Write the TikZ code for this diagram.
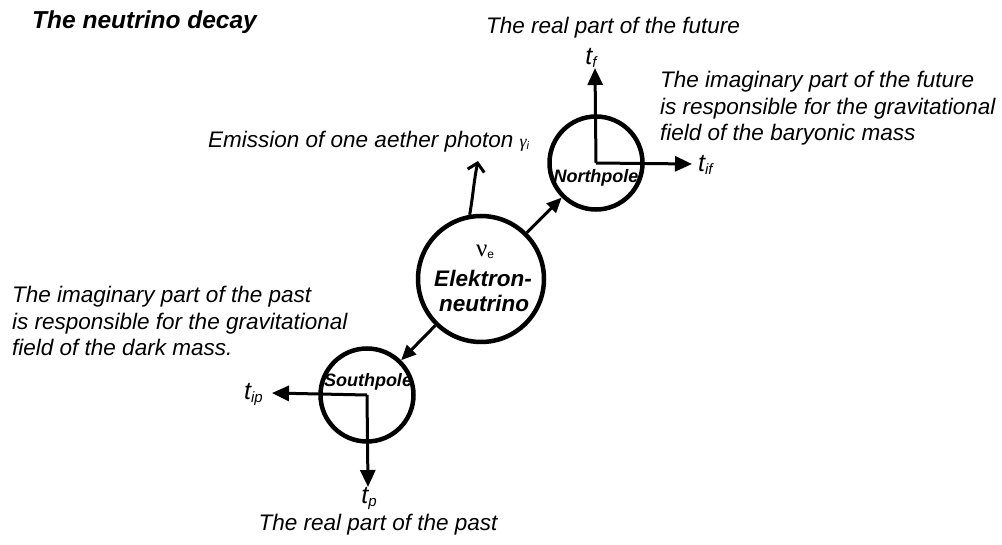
\documentclass[tikz,border=0pt]{standalone}
\usepackage{fontspec}
\setmainfont{Liberation Sans}
\newfontfamily\grfont{Liberation Serif}
\usetikzlibrary{arrows.meta}
\begin{document}
\begin{tikzpicture}[x=1pt,y=-1pt,
  lbl/.style={font=\fontsize{22.5}{26.5}\selectfont\itshape, align=left, inner sep=0pt},
  ball/.style={circle, draw, line width=4.5pt, inner sep=0pt},
  ax/.style={line width=3pt, -{Triangle[length=17pt,width=15pt]}},
  link/.style={line width=3pt, -{Triangle[length=15pt,width=13pt]}},
  poletxt/.style={font=\fontsize{18}{18}\selectfont\bfseries\itshape, inner sep=0pt},
  tlbl/.style={font=\fontsize{25}{25}\selectfont\itshape, inner sep=0pt},
  ctxt/.style={inner sep=0pt, font=\fontsize{22.5}{22.5}\selectfont\bfseries\itshape},
  ]
\useasboundingbox (0,0) rectangle (1002,545);
\fill[white] (0,0) rectangle (1002,545);

\node[anchor=west, inner sep=0pt, font=\fontsize{24.5}{28}\selectfont\bfseries\itshape] (title) at (32,22) {The neutrino decay};

% circles
\node[ball, minimum size=126pt] (nu) at (481,279) {};
\node[ball, minimum size=93pt] (np) at (596,163) {};
\node[ball, minimum size=93pt] (sp) at (367,395) {};

% centre text
\node[inner sep=0pt] (nusym) at (485,252) {{\grfont\fontsize{25}{25}\selectfont ν}\raisebox{-2pt}{\fontsize{12}{12}\selectfont e}};
\node[ctxt] (elek) at (483,278) {Elektron-};
\node[ctxt] (neut) at (484,303) {neutrino};

\node[poletxt] (nplbl) at (596,178) {Northpole};
\node[poletxt] (splbl) at (368,382) {Southpole};

% arrows between circles
\draw[link] (nu) -- (np);
\draw[link] (nu) -- (sp);

% photon
\coordinate (phend) at (478,161);
\draw[line width=3pt, -{Straight Barb[length=8pt,width=17pt]}] (nu.100) .. controls (473,196) and (474,180) .. (phend);

% north axes
\coordinate (tfend) at (595,68);
\coordinate (tifend) at (692,164);
\draw[ax] (np.center) -- (tfend);
\draw[ax] (np.center) -- (tifend);
\node[tlbl, anchor=base] (tf) at (591,65) {t\raisebox{-3pt}{\fontsize{15}{15}\selectfont f}};
\node[tlbl, anchor=west] (tif) at (698,165) {t\raisebox{-3pt}{\fontsize{15}{15}\selectfont if}};

% south axes
\coordinate (tipend) at (272,393);
\coordinate (tpend) at (368,487);
\draw[ax] (sp.center) -- (tipend);
\draw[ax] (sp.center) -- (tpend);
\node[tlbl, anchor=east] (tip) at (263,394) {t\raisebox{-3pt}{\fontsize{15}{15}\selectfont ip}};
\node[tlbl, anchor=base] (tp) at (369,503) {t\raisebox{-3pt}{\fontsize{15}{15}\selectfont p}};

% labels
\node[lbl] (realfut) at (613,28) {The real part of the future};
\node[lbl, anchor=north west] (imfut) at (660,71) {The imaginary part of the future\\is responsible for the gravitational\\field of the baryonic mass};
\node[lbl, anchor=west] (emis) at (208,142) {Emission of one aether photon {\grfont\fontsize{18}{18}\selectfont γ}\raisebox{-2pt}{\fontsize{11}{11}\selectfont i}};
\node[lbl, anchor=north west] (impast) at (12,286) {The imaginary part of the past\\is responsible for the gravitational\\field of the dark mass.};
\node[lbl, anchor=base] (realpast) at (378,530) {The real part of the past};
\end{tikzpicture}
\end{document}
